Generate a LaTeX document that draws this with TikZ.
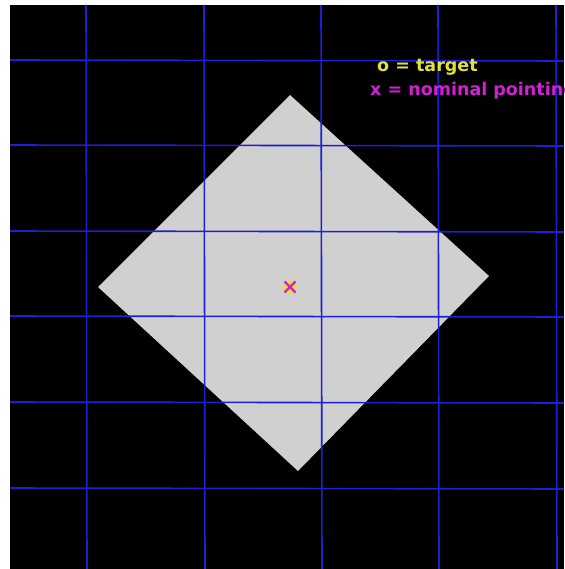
\documentclass[tikz,border=0pt]{standalone}
\usepackage{fontspec}
\newfontfamily\labelfont{DejaVu Sans}
\definecolor{gridblue}{RGB}{30,30,215}
\definecolor{plate}{RGB}{208,208,208}
\definecolor{tyellow}{RGB}{225,225,55}
\definecolor{nmagenta}{RGB}{215,30,215}
\tikzset{
  gridline/.style={draw=gridblue, line width=1.6pt},
  legend/.style={font=\labelfont\bfseries\fontsize{17.5}{20}\selectfont, inner sep=0pt, anchor=base west},
}
\begin{document}
\begin{tikzpicture}[x=1pt,y=-1pt]
\useasboundingbox (0,0) rectangle (564,569);
\fill[white] (0,0) rectangle (564,569);
\begin{scope}
\clip (10,5) rectangle (564,569);
\fill[black] (10,5) rectangle (564,569);
% plate
\fill[plate] (290,95) -- (489,276) -- (298,471) -- (98,287) -- cycle;
% grid
\foreach \yy in {60,145,231,316,402,488}
  \draw[gridline] (10,\yy) -- (564,\yy+1);
\foreach \xx in {86,204,321,438,556}
  \draw[gridline] (\xx,5) -- (\xx+1,569);
% markers
\fill[tyellow] (290,287) circle (6.5);
\draw[nmagenta, line width=2.2pt] (284.5,281.5) -- (295.5,292.5) (284.5,292.5) -- (295.5,281.5);
\node[legend, text=tyellow] (t1) at (377,72) {o = target};
\node[legend, text=nmagenta] (t2) at (370,96) {x = nominal pointing};
\end{scope}
\end{tikzpicture}
\end{document}
